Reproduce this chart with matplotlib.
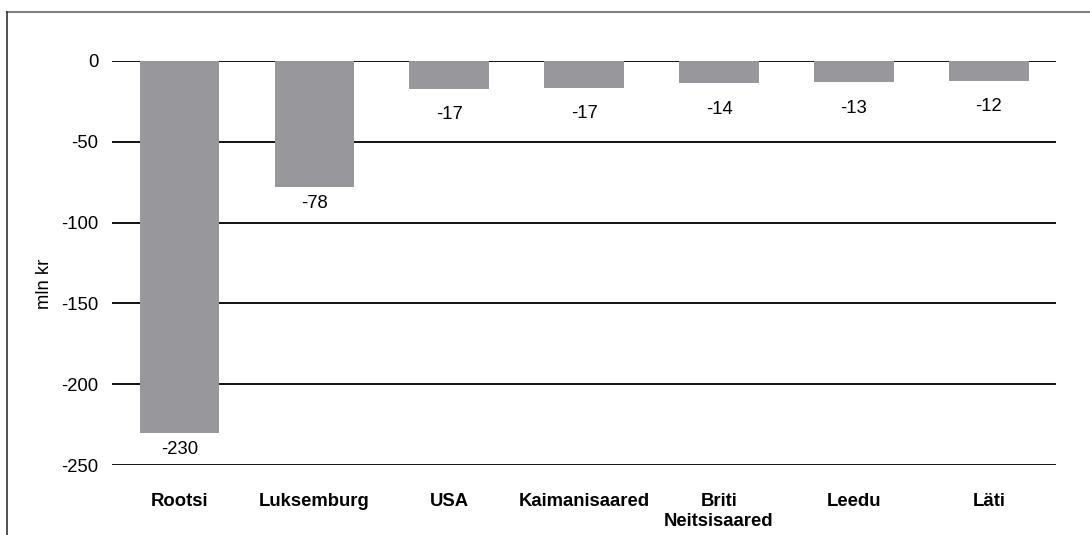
import matplotlib
matplotlib.use("Agg")
import matplotlib.pyplot as plt
from matplotlib.lines import Line2D

countries = ["Rootsi", "Luksemburg", "USA", "Kaimanisaared",
             "Briti\nNeitsisaared", "Leedu", "Läti"]
values = [-230.4, -78.2, -17.2, -16.6, -13.8, -13.2, -12.3]
yticks = [0, -50, -100, -150, -200, -250]

plt.rcParams["font.family"] = ["Liberation Sans", "DejaVu Sans"]
plt.rcParams["font.size"] = 13.3

fig = plt.figure(figsize=(10.9, 5.35), dpi=100)
ax = fig.add_axes([0.1028, 0.1308, 0.8662, 0.7552])

x = range(len(countries))
for y in yticks:
    ax.axhline(y, color="black", lw=1.3, zorder=1)
ax.bar(x, values, width=0.59, color="#98979b", zorder=2)

# value labels under the bar ends
for xi, v in zip(x, values):
    gap = 10 if v < -50 else 16
    ax.text(xi, v - gap, f"{v:.0f}", ha="center", va="center")

ax.set_xlim(-0.5, len(countries) - 0.5)
ax.set_ylim(-250, 0)
ax.set_yticks(yticks)
ax.set_yticklabels([str(t) for t in yticks])
ax.set_xticks(list(x))
ax.set_xticklabels(countries, fontweight="bold", linespacing=1.28)
ax.tick_params(axis="both", length=0)
ax.tick_params(axis="x", pad=20)
ax.tick_params(axis="y", pad=10)
for s in ax.spines.values():
    s.set_visible(False)

ax.set_ylabel("mln kr")
ax.yaxis.set_label_coords(-0.063, 0.448)

# frame around the figure (top and left)
fig.add_artist(Line2D([7 / 1090, 1.0], [1 - 12 / 535, 1 - 12 / 535],
                      color="#808080", lw=1.5, transform=fig.transFigure))
fig.add_artist(Line2D([7 / 1090, 7 / 1090], [0, 1 - 12 / 535],
                      color="#333333", lw=1.2, transform=fig.transFigure))

fig.savefig("out.png", dpi=100)
